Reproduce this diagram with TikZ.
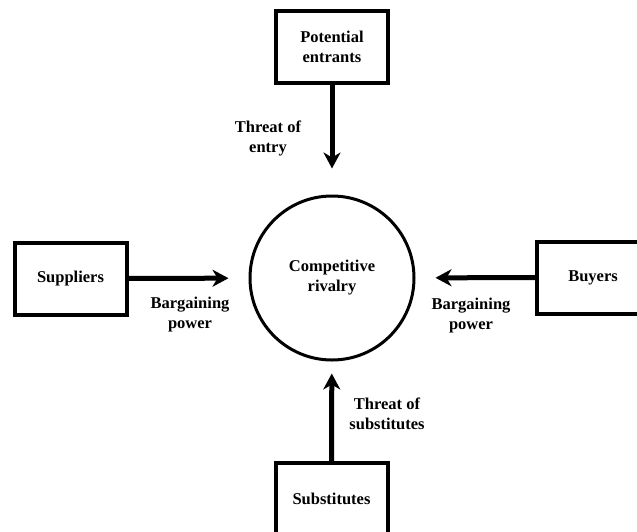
\documentclass[tikz,border=0pt]{standalone}
\usepackage{fontspec}
\setmainfont{Liberation Serif}
\usetikzlibrary{arrows.meta}
\begin{document}
\begin{tikzpicture}[x=1pt,y=-1pt,
  txt/.style={font=\fontsize{16.5}{20}\selectfont\bfseries,align=center},
  box/.style={txt,draw,line width=4pt,minimum width=112pt,minimum height=72pt,inner sep=0pt},
  lbl/.style={txt,inner sep=0pt},
  arr/.style={line width=5pt,-{Stealth[length=16pt,width=17pt,inset=5pt]}}]
\useasboundingbox (0,0) rectangle (637,531);
\fill[white] (0,0) rectangle (637,531);
\node[txt,circle,draw,line width=3pt,minimum size=164pt,inner sep=0pt] (rival) at (332,278) {Competitive\\rivalry};
\node[box] (entrants) at (332,47) {Potential\\entrants};
\node[box] (suppliers) at (70.5,278.5) {Suppliers};
\node[box] (buyers) at (593,277.5) {Buyers};
\node[box] (subs) at (331.5,499) {Substitutes};
\draw[arr,shorten >=26pt] (entrants) -- (rival);
\draw[arr,shorten >=12pt] (subs) -- (rival);
\draw[arr,shorten >=20pt] (suppliers) -- (rival);
\draw[arr,shorten >=20pt] (buyers) -- (rival);
\node[lbl] (l1) at (268,138) {Threat of\\entry};
\node[lbl] (l2) at (387,414) {Threat of\\substitutes};
\node[lbl] (l3) at (190,315) {Bargaining\\power};
\node[lbl] (l4) at (471,316) {Bargaining\\power};
\end{tikzpicture}
\end{document}
